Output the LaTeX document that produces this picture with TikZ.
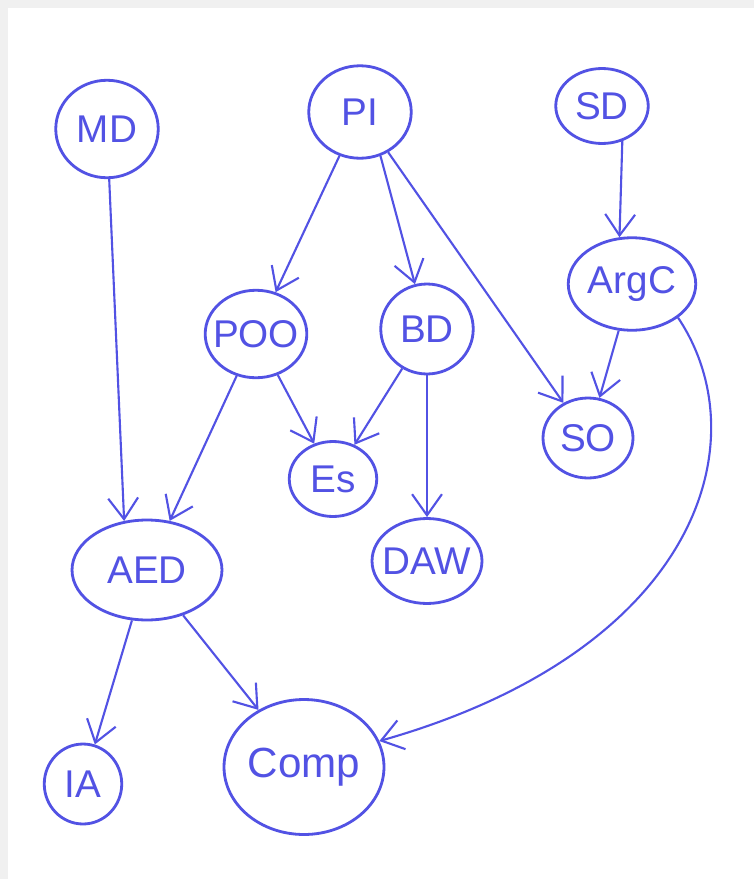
\documentclass[tikz,border=0pt]{standalone}
\usepackage{fontspec}
\setmainfont{Liberation Sans}
\usepackage{tikz}
\usetikzlibrary{shapes,arrows,arrows.meta,positioning}
\usepackage{xcolor}
\definecolor{pen}{RGB}{82,82,228}
\definecolor{frame}{RGB}{240,240,240}

\tikzset{
    course/.style={draw=pen, ellipse, line width=1.6pt, text=pen, inner sep=0pt,
        font=\fontsize{22}{26}\selectfont},
    dep/.style={draw=pen, line width=1.2pt, -{Straight Barb[length=12pt,width=17pt]}}
}

\begin{document}
\begin{tikzpicture}[x=0.02cm, y=-0.02cm]
    % Sfondo
    \fill[frame] (0,0) rectangle (754,879);
    \fill[white] (8,8) rectangle (754,879);
    \useasboundingbox (0,0) rectangle (754,879);

    % Corsi
    \node[course, minimum width=2.05cm, minimum height=1.95cm] (md) at (107,129) {MD};
    \node[course, minimum width=2.05cm, minimum height=1.85cm] (pi) at (360,112) {PI};
    \node[course, minimum width=1.85cm, minimum height=1.5cm] (sd) at (602,106) {SD};
    \node[course, minimum width=2.55cm, minimum height=1.85cm] (argc) at (632,284) {ArgC};
    \node[course, minimum width=1.95cm, minimum height=1.75cm, inner xsep=-4pt] (poo) at (256,334) {POO};
    \node[course, minimum width=1.85cm, minimum height=1.8cm] (bd) at (427,329) {BD};
    \node[course, minimum width=1.8cm, minimum height=1.6cm] (so) at (588,438) {SO};
    \node[course, minimum width=1.75cm, minimum height=1.5cm] (es) at (333,479) {Es};
    \node[course, minimum width=2.2cm, minimum height=1.7cm, inner xsep=-3.5pt] (daw) at (427,561) {DAW};
    \node[course, minimum width=3cm, minimum height=2cm] (aed) at (147,570) {AED};
    \node[course, minimum width=1.55cm, minimum height=1.6cm] (ia) at (83,784) {IA};
    \node[course, minimum width=3.2cm, minimum height=2.7cm,
        font=\fontsize{24}{28}\selectfont] (comp) at (304,767) {Comp};

    % Dipendenze
    \draw[dep] (md) -- (aed.115);
    \draw[dep] (pi) -- (poo);
    \draw[dep] (pi.295) -- (bd);
    \draw[dep] (pi) -- (so);
    \draw[dep] (sd.300) -- (argc.105);
    \draw[dep] (argc) -- (so);
    \draw[dep] (poo) -- (es);
    \draw[dep] (poo) -- (aed);
    \draw[dep] (bd) -- (es);
    \draw[dep] (bd.south) -- (daw.north);
    \draw[dep] (aed) -- (ia);
    \draw[dep] (aed) -- (comp);
    \draw[dep] (argc.south east) .. controls (760,440) and (700,650) .. (comp.19);
\end{tikzpicture}
\end{document}
